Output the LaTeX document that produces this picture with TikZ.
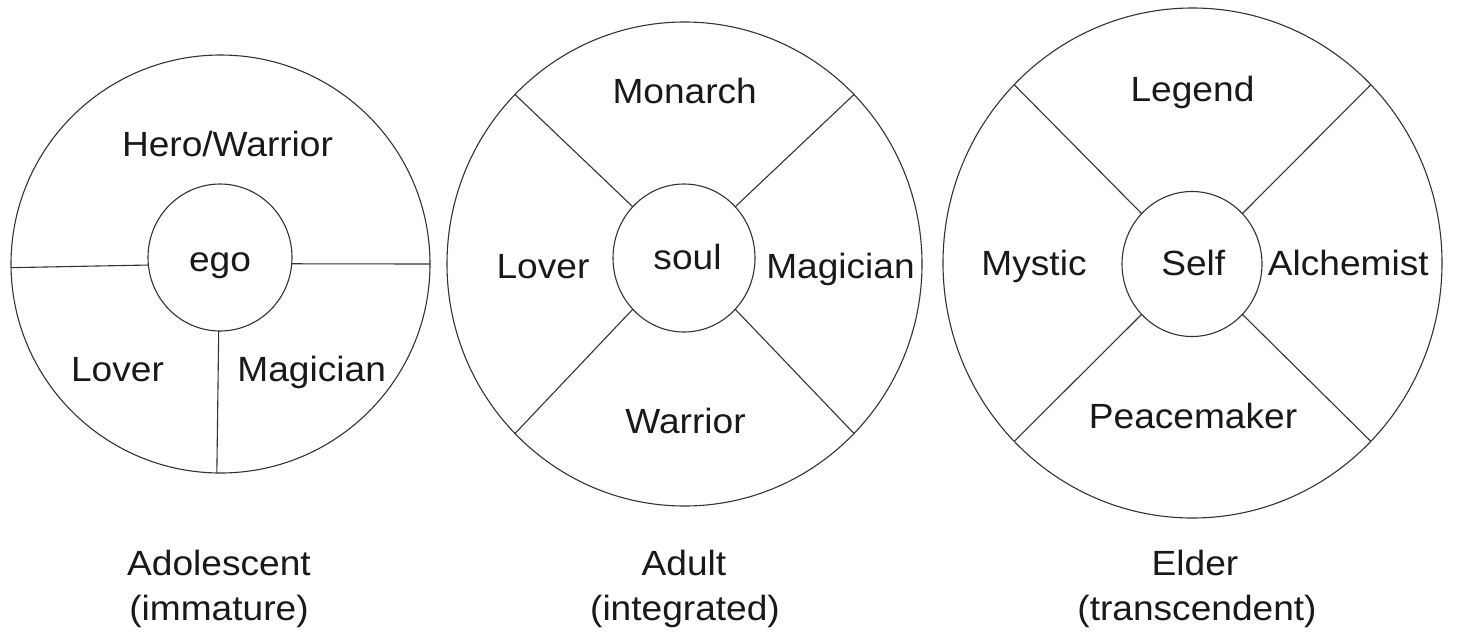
\documentclass[tikz,border=0pt]{standalone}
\usepackage{fontspec}
\setmainfont{Liberation Sans}[FakeStretch=1.06]
\usetikzlibrary{shapes.geometric}
\begin{document}
\begin{tikzpicture}[x=1pt,y=-1pt,
  ring/.style={draw=black!80, line width=1.1pt, ellipse, inner sep=0pt, outer sep=0pt},
  spoke/.style={draw=black!80, line width=1.1pt},
  lbl/.style={anchor=base, inner sep=0pt, font=\fontsize{35}{42}\selectfont, text=black!90}]
\useasboundingbox (0,0) rectangle (1459,633);

% ---------- Adolescent ----------
\node[ring, minimum width=419pt, minimum height=418pt] (lout) at (220.5,264) {};
\node[ring, minimum width=144pt, minimum height=147pt] (lin) at (220,257.5) {};
\draw[spoke] (lin.186) -- (lout.181);
\draw[spoke] (lin.-5) -- (lout.0.5);
\draw[spoke] (lin.-91.5) -- (lout.-91);
\node[lbl] (l1) at (227.5,156.7) {Hero/Warrior};
\node[lbl] (l2) at (220,271.7) {ego};
\node[lbl] (l3) at (117.5,381.7) {Lover};
\node[lbl] (l4) at (311.7,381.7) {Magician};
\node[lbl] (l5) at (219,575.7) {Adolescent};
\node[lbl] (l6) at (219,620.7) {(immature)};

% ---------- Adult ----------
\node[ring, minimum width=475pt, minimum height=484pt] (mout) at (684.5,264) {};
\node[ring, minimum width=142pt, minimum height=148pt] (min) at (684,258) {};
\foreach \a in {45,135,225,315} \draw[spoke] (min.\a) -- (mout.\a);
\node[lbl] (m1) at (684.7,103.3) {Monarch};
\node[lbl] (m2) at (543,278.3) {Lover};
\node[lbl] (m3) at (687.5,269.3) {soul};
\node[lbl] (m4) at (840.5,278.3) {Magician};
\node[lbl] (m5) at (685.5,433.3) {Warrior};
\node[lbl] (m6) at (684,575.7) {Adult};
\node[lbl] (m7) at (685,620.7) {(integrated)};

% ---------- Elder ----------
\node[ring, minimum width=499pt, minimum height=510pt] (rout) at (1192.5,263) {};
\node[ring, minimum width=140pt, minimum height=145pt] (rin) at (1192,264) {};
\foreach \a in {45,135,225,315} \draw[spoke] (rin.\a) -- (rout.\a);
\node[lbl] (r1) at (1192.5,101.7) {Legend};
\node[lbl] (r2) at (1034,275) {Mystic};
\node[lbl] (r3) at (1193.3,275) {Self};
\node[lbl] (r4) at (1348.3,275) {Alchemist};
\node[lbl] (r5) at (1193,428.3) {Peacemaker};
\node[lbl] (r6) at (1195,575.7) {Elder};
\node[lbl] (r7) at (1197,620.7) {(transcendent)};
\end{tikzpicture}
\end{document}
